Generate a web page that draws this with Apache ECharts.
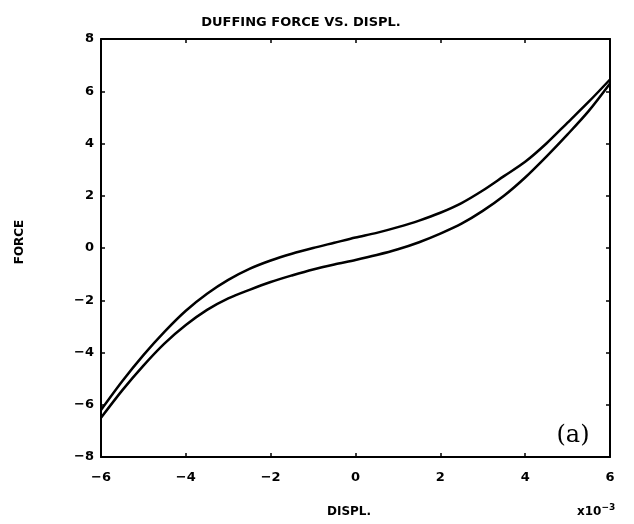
<!DOCTYPE html>
<html>
<head>
<meta charset="utf-8">
<script src="https://cdn.jsdelivr.net/npm/echarts@6/dist/echarts.min.js"></script>
<style>
  html, body { margin: 0; padding: 0; background: #fff; }
  #chart { width: 634px; height: 524px; }
</style>
</head>
<body>
<div id="chart"></div>
<script>
// Displacement in units of 1e-3; force in plotted units.
// Upper branch: unloading, from +6 back to -6
const upperDispl = [6, 5.5, 5, 4.5, 4, 3.5, 3, 2.5, 2, 1.5, 1, 0.5, 0, -0.5, -1, -1.5, -2, -2.5, -3, -3.5, -4, -4.5, -5, -5.5, -6];
const upperForce = [6.45, 5.6, 4.8, 4.0, 3.3, 2.75, 2.2, 1.72, 1.35, 1.05, 0.8, 0.58, 0.4, 0.2, 0.0, -0.22, -0.48, -0.8, -1.22, -1.75, -2.4, -3.2, -4.1, -5.1, -6.2];
// Lower branch: loading, from -6 up to +6
const lowerDispl = [-6, -5.5, -5, -4.5, -4, -3.5, -3, -2.5, -2, -1.5, -1, -0.5, 0, 0.5, 1, 1.5, 2, 2.5, 3, 3.5, 4, 4.5, 5, 5.5, 6];
const lowerForce = [-6.5, -5.45, -4.5, -3.65, -2.95, -2.37, -1.93, -1.6, -1.3, -1.05, -0.82, -0.63, -0.46, -0.27, -0.05, 0.22, 0.55, 0.93, 1.42, 2.0, 2.7, 3.5, 4.35, 5.25, 6.3];

const xTicks = [-6, -4, -2, 0, 2, 4, 6];
const yTicks = [-8, -6, -4, -2, 0, 2, 4, 6, 8];

const chart = echarts.init(document.getElementById('chart'));

const labelFont = {
  color: '#000',
  fontFamily: 'DejaVu Sans',
  fontWeight: 'bold',
  fontSize: 13
};

const minusFmt = v => v < 0 ? '\u2212' + Math.abs(v) : String(v);

function axisCommon() {
  return {
    axisLine: { show: true, onZero: false, lineStyle: { color: '#000', width: 2 } },
    axisTick: { show: true, inside: true, length: 4, lineStyle: { color: '#000', width: 1.5 } },
    splitLine: { show: false }
  };
}

function pairs(xs, ys) {
  return xs.map((x, i) => [x, ys[i]]);
}

chart.setOption({
  animation: false,
  backgroundColor: '#fff',
  title: {
    text: 'DUFFING FORCE VS. DISPL.',
    left: 296,
    top: 11,
    textAlign: 'center',
    textStyle: { color: '#000', fontFamily: 'DejaVu Sans', fontWeight: 'bold', fontSize: 13 }
  },
  grid: { left: 101, right: 24, top: 39, bottom: 67 },
  xAxis: [
    Object.assign(axisCommon(), {
      type: 'value', min: xTicks[0], max: xTicks[xTicks.length - 1], interval: 2,
      position: 'bottom',
      axisLabel: Object.assign({ margin: 14, formatter: minusFmt }, labelFont)
    }),
    Object.assign(axisCommon(), {
      type: 'value', min: xTicks[0], max: xTicks[xTicks.length - 1], interval: 2,
      position: 'top',
      axisLabel: { show: false }
    })
  ],
  yAxis: [
    Object.assign(axisCommon(), {
      type: 'value', min: yTicks[0], max: yTicks[yTicks.length - 1], interval: 2,
      position: 'left',
      axisLabel: Object.assign({ margin: 7, formatter: minusFmt }, labelFont)
    }),
    Object.assign(axisCommon(), {
      type: 'value', min: yTicks[0], max: yTicks[yTicks.length - 1], interval: 2,
      position: 'right',
      axisLabel: { show: false }
    })
  ],
  series: [
    {
      name: 'upper', type: 'line', xAxisIndex: 0, yAxisIndex: 0,
      data: pairs(upperDispl, upperForce),
      smooth: 0.3, showSymbol: false,
      lineStyle: { color: '#000', width: 2.5 }
    },
    {
      name: 'lower', type: 'line', xAxisIndex: 0, yAxisIndex: 0,
      data: pairs(lowerDispl, lowerForce),
      smooth: 0.3, showSymbol: false,
      lineStyle: { color: '#000', width: 2.5 }
    }
  ],
  graphic: [
    {
      type: 'text', x: 20, y: 242, rotation: Math.PI / 2,
      style: { text: 'FORCE', fill: '#000', font: 'bold 12px "DejaVu Sans"', align: 'center', verticalAlign: 'middle' }
    },
    {
      type: 'text', x: 349, y: 512,
      style: { text: 'DISPL.', fill: '#000', font: 'bold 12px "DejaVu Sans"', align: 'center', verticalAlign: 'middle' }
    },
    {
      type: 'text', x: 577, y: 512,
      style: {
        text: '{a|x10}{b|\u22123}',
        fill: '#000',
        verticalAlign: 'middle',
        rich: {
          a: { font: 'bold 12px "DejaVu Sans"', fill: '#000' },
          b: { font: 'bold 9px "DejaVu Sans"', fill: '#000', verticalAlign: 'top', padding: [0, 0, 8, 0] }
        }
      }
    },
    {
      type: 'text', x: 573, y: 436,
      style: { text: '(a)', fill: '#000', font: '24px "DejaVu Serif"', align: 'center', verticalAlign: 'middle' }
    }
  ]
});
</script>
</body>
</html>
